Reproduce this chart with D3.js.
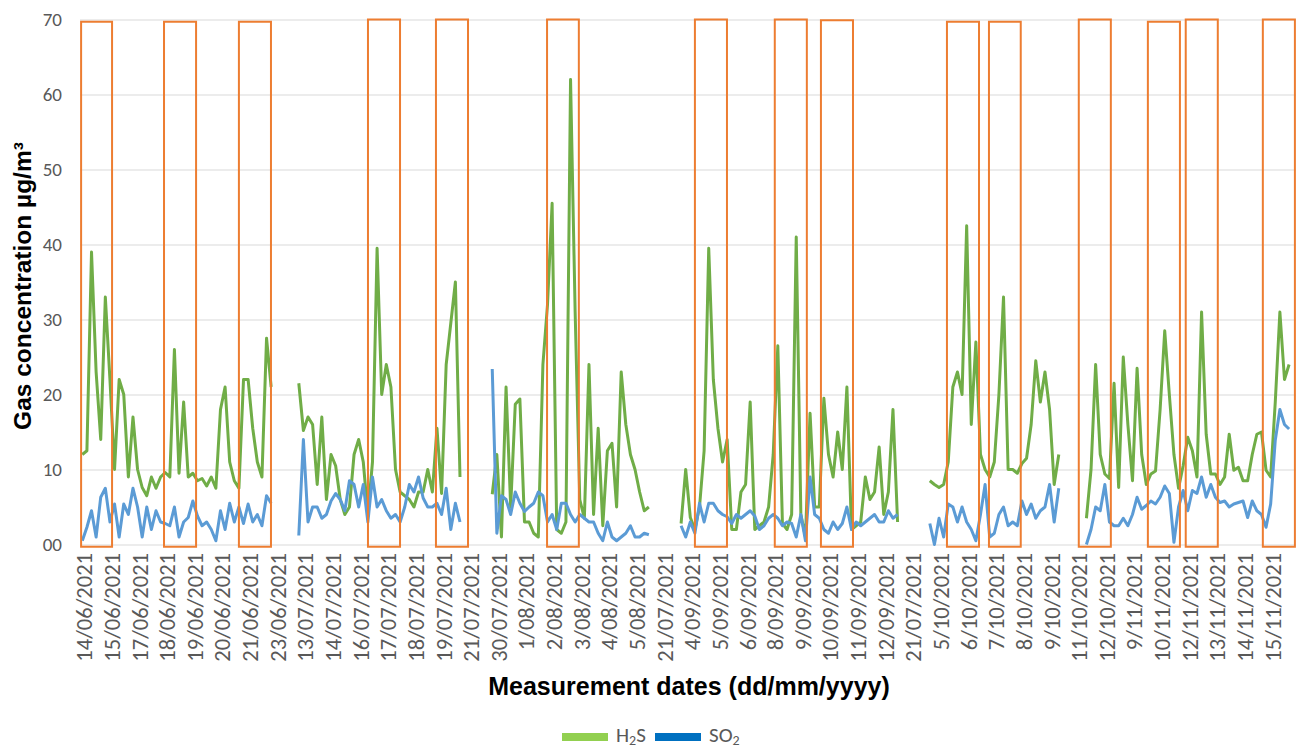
<!DOCTYPE html>
<html><head><meta charset="utf-8">
<script src="https://cdn.jsdelivr.net/npm/d3@7"></script>
<style>
body{margin:0;background:#fff;}
svg{display:block;}
</style>
</head><body>
<svg id="chart" width="1296" height="748"></svg>
<script>
// ---------- data ----------
const dayLabels = ["14/06/2021","15/06/2021","17/06/2021","18/06/2021","19/06/2021","20/06/2021","21/06/2021","23/06/2021",
"13/07/2021","14/07/2021","16/07/2021","17/07/2021","18/07/2021","19/07/2021","21/07/2021","30/07/2021",
"1/08/2021","2/08/2021","3/08/2021","4/08/2021","5/08/2021","21/07/2021","4/09/2021","5/09/2021",
"6/09/2021","8/09/2021","9/09/2021","10/09/2021","11/09/2021","12/09/2021","21/07/2021","5/10/2021",
"6/10/2021","7/10/2021","8/10/2021","9/10/2021","11/10/2021","12/10/2021","9/11/2021","10/11/2021",
"12/11/2021","13/11/2021","14/11/2021","15/11/2021"];
const pointsPerDay = 6;
const n = null;
const h2s = [
12,12.5,39,23,14,33,
22,10,22,20,9,17,
10,7.6,6.5,9,7.5,9,
9.6,9,26,9.5,19,9,
9.5,8.5,8.8,7.8,9,7.5,
18,21,11,8.5,7.5,22,
22,15.5,11,9,27.5,21,
n,n,n,n,n,21.5,
15.2,17,16,8,17,6,
12,10.5,6,4,5,12,
14,11,4,11,39.5,20,
24,21,10,7,6.5,6,
5,7,7,10,7,15.5,
6.8,24,29.5,35,9,n,
n,n,n,n,n,6.7,
12,1,21,5,18.7,19.4,
3,3,1.5,1,24,32,
45.5,2,1.5,3,62,31,
6,3.5,24,4,15.5,2.5,
12.5,13.5,5,23,16,12,
10,7,4.5,5,n,n,
n,n,n,n,2.8,10,
3.6,2,5,12.5,39.5,22,
15.5,11,14,2,2,7,
8,19,2,2.5,3,5,
12,26.5,2.8,2,4,41,
4,1,17.5,5,5,19.5,
12,9,15,10,21,2,
2.5,3,9,6,7,13,
4,7,18,3,n,n,
n,n,n,n,8.5,8,
7.6,8,11,21,23,20,
42.5,16,27,12,10,9,
11,20,33,10,10,9.5,
10.8,11.5,16,24.5,19,23,
18,8,12,n,n,n,
n,n,3.5,10,24,12,
9.4,8.8,21.5,7.6,25,16,
8.5,23.5,12,8,9.4,9.8,
18,28.5,20,12,7.5,10.5,
14.3,12.5,9,31,14.7,9.4,
9.4,8,9,14.7,9.9,10.3,
8.5,8.5,12,14.7,15,9.9,
9,19,31,22,24,n];
const so2 = [
0.5,2.3,4.5,1,6.3,7.5,
3,5.4,1,5.4,4,7.5,
5,1,5,2,4.5,3,
2.8,2.5,5,1,3,3.6,
5.8,3.8,2.5,3,2,0.5,
4.5,2,5.5,3,5,2.8,
5.4,3,4,2.5,6.5,5.5,
n,n,n,n,n,1.2,
14,3,5,5,3.5,4,
5.8,6.8,6,4.5,8.5,8,
5,8,3,9,5,6,
4.5,3.5,4,3,5,8,
7,9,6.2,5,5,5.5,
4,7.5,2,5.5,3,n,
n,n,n,n,n,23.4,
1.5,6.5,6,4,7,5.5,
4.4,5,5.5,7,6.5,3,
4,2,5.5,5.5,4,3,
4,3.5,3,3,1.5,0.5,
3,1,0.5,1,1.5,2.5,
1,1,1.5,1.3,n,n,
n,n,n,n,2.5,1,
3,1.5,5.5,3,5.5,5.5,
4.5,4,3.7,2.8,4,3.5,
4,4.5,3.8,2,2.5,3.5,
4,3.5,2.5,3,2.8,1,
4,0.5,9,4,3.5,2,
1.5,3,2,2.8,5,2,
3,2.5,3,3.5,4,3,
3,4.5,3.5,4,n,n,
n,n,n,n,2.8,0,
3.5,1,5.4,5,3,5,
3,2,0.5,4,8,1,
1.5,4,5,2.5,3,2.5,
5.8,4,5.4,3.5,4.5,5,
8,3,7.5,n,n,n,
n,n,0,2,5,4.5,
8,3,2.5,2.5,3.5,2.5,
4,6.3,4.7,5.2,5.8,5.4,
6.3,7.8,6.8,0.3,5,7.2,
4.5,7.2,6.8,9,6.3,8,
6.3,5.6,5.8,5,5.4,5.6,
5.8,3.6,5.8,4.5,4,2.3,
5.4,13.9,18,16,15.4,n];
const yTicks = [0,10,20,30,40,50,60,70];
const yTickLabels = ["00","10","20","30","40","50","60","70"];
// highlighted windows (in day units along the category axis)
const boxStart = [0.04,3.04,5.75,10.42,12.88,16.90,22.25,25.14,26.81,31.37,32.89,36.14,38.64,40.01,42.80];
const boxEnd   = [1.16,4.20,6.91,11.58,14.04,18.05,23.41,26.30,27.97,32.53,34.04,37.30,39.80,41.17,43.96];
const boxTop   = [69.7,69.7,69.7,70,70,70,70,70,69.9,69.7,69.7,70,69.7,70,70];
// legend entries: [main, subscript, tail]
const seriesNames = [["H","2","S"],["SO","2",""]];

// ---------- drawing ----------
const svg = d3.select("#chart");
const plotLeft = 80, plotRight = 1296, plotTop = 19.5, plotBottom = 544.5;
const x = d3.scaleLinear().domain([0, dayLabels.length]).range([plotLeft, plotRight]);
const y = d3.scaleLinear().domain([0, 70]).range([plotBottom, plotTop]);
const tickFont = "Carlito, Lato, 'Open Sans', sans-serif";
const grey = "#595959";

// grid + y tick labels
const yAxis = d3.axisLeft(y).tickValues(yTicks).tickSize(-(plotRight-plotLeft)).tickFormat((d,i)=>yTickLabels[i]);
const gy = svg.append("g").attr("transform",`translate(${plotLeft},0)`).call(yAxis);
gy.select(".domain").remove();
gy.selectAll(".tick line").attr("stroke","#d9d9d9").attr("stroke-width",1.2);
gy.selectAll(".tick text").attr("x",-18).attr("fill",grey)
  .style("font-family",tickFont).style("font-size","19px");

// x labels
const labelOffset = 0.15;
svg.append("g").selectAll("text").data(dayLabels).join("text")
  .attr("transform",(d,k)=>`translate(${x(k+labelOffset)},553) rotate(-90)`)
  .attr("text-anchor","end").attr("dy","0.36em")
  .attr("fill",grey).style("font-family",tickFont).style("font-size","22.5px")
  .text(d=>d);

// lines
const line = d3.line()
  .defined(d=>d!=null)
  .x((d,i)=>x((i+0.5)/pointsPerDay))
  .y(d=>y(d));
svg.append("path").datum(h2s).attr("d",line).attr("fill","none")
  .attr("stroke","#70ad47").attr("stroke-width",3).attr("stroke-linejoin","round");
svg.append("path").datum(so2).attr("d",line).attr("fill","none")
  .attr("stroke","#5b9bd5").attr("stroke-width",3).attr("stroke-linejoin","round");

// highlight boxes
svg.append("g").selectAll("rect").data(boxStart).join("rect")
  .attr("x",(d)=>x(d))
  .attr("y",(d,i)=>y(boxTop[i]))
  .attr("width",(d,i)=>x(boxEnd[i])-x(d))
  .attr("height",(d,i)=>y(-0.3)-y(boxTop[i]))
  .attr("fill","none").attr("stroke","#ed7d31").attr("stroke-width",2);

// axis titles
svg.append("text").attr("x",689).attr("y",695).attr("text-anchor","middle")
  .style("font-family","'Liberation Sans', Arial, sans-serif").style("font-weight","bold").style("font-size","25px")
  .attr("fill","#000").text("Measurement dates (dd/mm/yyyy)");
svg.append("text").attr("transform","translate(31,286) rotate(-90)").attr("text-anchor","middle")
  .style("font-family","'Liberation Sans', Arial, sans-serif").style("font-weight","bold").style("font-size","24.5px")
  .attr("fill","#000").text("Gas concentration µg/m³");

// legend
const legend = svg.append("g").style("font-family",tickFont).style("font-size","21px").attr("fill",grey);
const legColors = ["#92d050","#0070c0"];
const legX = [562, 655];
seriesNames.forEach((s,i)=>{
  legend.append("rect").attr("x",legX[i]).attr("y",733).attr("width",46).attr("height",8).attr("fill",legColors[i]);
  const t = legend.append("text").attr("x",legX[i]+54).attr("y",742);
  t.append("tspan").text(s[0]);
  t.append("tspan").attr("dy",3).style("font-size","14px").text(s[1]);
  if (s[2]) t.append("tspan").attr("dy",-3).text(s[2]);
});
</script>
</body></html>
